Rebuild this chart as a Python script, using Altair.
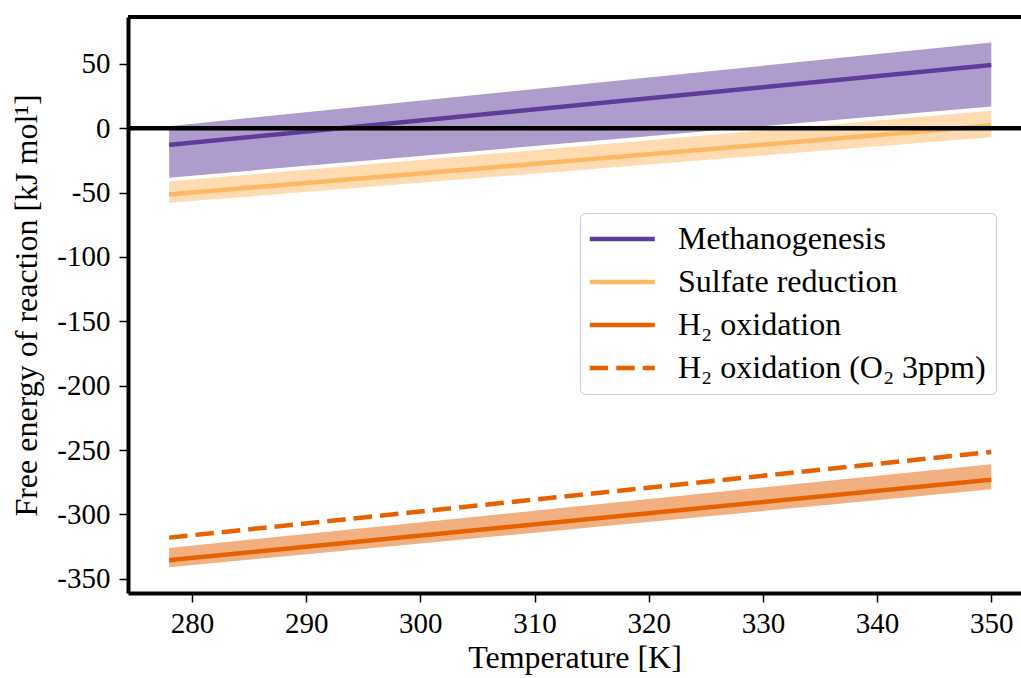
import altair as alt
import pandas as pd

# ---- data ----
temps = [278, 350]
series_names = ["Methanogenesis", "Sulfate reduction", "H₂ oxidation", "H₂ oxidation (O₂ 3ppm)"]
meth = [-13.0, 49.0]
meth_lo = [-38.5, 16.8]
meth_hi = [1.5, 66.5]
sulf = [-51.5, 2.0]
sulf_lo = [-58.0, -7.0]
sulf_hi = [-41.5, 13.5]
h2 = [-335.5, -273.0]
h2_lo = [-341.0, -280.5]
h2_hi = [-326.0, -261.0]
h2_o2 = [-318.0, -251.5]
colors = ["#5e3c99", "#fdb863", "#e66101", "#e66101"]
x_ticks = [280, 290, 300, 310, 320, 330, 340, 350]
y_ticks = [-350, -300, -250, -200, -150, -100, -50, 0, 50]

line_rows = []
for name, vals in zip(series_names, [meth, sulf, h2, h2_o2]):
    for t, v in zip(temps, vals):
        line_rows.append({"T": t, "G": v, "series": name})
lines_df = pd.DataFrame(line_rows)

band_rows = []
for name, lo, hi in zip(series_names[:3], [meth_lo, sulf_lo, h2_lo], [meth_hi, sulf_hi, h2_hi]):
    for t, a, b in zip(temps, lo, hi):
        band_rows.append({"T": t, "lo": a, "hi": b, "series": name})
bands_df = pd.DataFrame(band_rows)

W, H = 893, 576
FONT = "Times New Roman, Liberation Serif, DejaVu Serif, serif"

xscale = alt.Scale(domain=[274.4, 352.6], nice=False, zero=False)
yscale = alt.Scale(domain=[-361, 86.3], nice=False, zero=False)

xaxis = alt.Axis(values=x_ticks, format="d", title="Temperature [K]",
                 titleX=W / 2, titleY=74,
                 titleBaseline="alphabetic", labelPadding=7)
yaxis = alt.Axis(values=y_ticks, labelExpr="'' + datum.value",
                 title="Free energy of reaction [kJ mol¹]",
                 titleX=-102, titleY=H / 2, titleAngle=270, titleAlign="center",
                 titleBaseline="middle", labelPadding=9)

bands = alt.Chart(bands_df).mark_area(opacity=0.5).encode(
    x=alt.X("T:Q", scale=xscale, axis=xaxis),
    y=alt.Y("lo:Q", scale=yscale, axis=yaxis),
    y2="hi:Q",
    fill=alt.Fill("series:N", scale=alt.Scale(domain=series_names[:3], range=colors[:3]), legend=None),
)

lines = alt.Chart(lines_df).mark_line(strokeWidth=4.5, strokeCap="butt").encode(
    x=alt.X("T:Q", scale=xscale),
    y=alt.Y("G:Q", scale=yscale),
    stroke=alt.Stroke("series:N", scale=alt.Scale(domain=series_names, range=colors),
                      legend=alt.Legend(title=None)),
    strokeDash=alt.StrokeDash("series:N",
                              scale=alt.Scale(domain=series_names,
                                              range=[[1, 0], [1, 0], [1, 0], [18.5, 8]]),
                              legend=alt.Legend(title=None)),
)

zero = alt.Chart(pd.DataFrame({"z": [0]})).mark_rule(color="black", strokeWidth=4.5).encode(
    y=alt.Y("z:Q", scale=yscale)
)

top_spine = alt.Chart(pd.DataFrame({"z": [0]})).mark_rule(color="black", strokeWidth=4).encode(
    y=alt.value(0)
)

chart = alt.layer(bands, lines, zero, top_spine).properties(
    width=W, height=H,
    autosize=alt.AutoSizeParams(type="none"),
    padding={"left": 128, "top": 17, "right": 0, "bottom": 85},
).configure_view(stroke=None).configure_axis(
    domainColor="black", domainWidth=4, tickColor="black", tickWidth=1.5, tickSize=9,
    grid=False, labelFont=FONT, titleFont=FONT, labelFontSize=29, titleFontSize=32,
    labelColor="black", titleColor="black", titleFontWeight="normal",
).configure_legend(
    orient="none", legendX=452, legendY=196, padding=10,
    labelFont=FONT, labelFontSize=32, labelColor="black", labelLimit=600,
    symbolType="M-1.5,0H4.5", symbolSize=470, symbolStrokeWidth=4.5,
    labelOffset=56, rowPadding=11,
    fillColor="rgba(255,255,255,0.8)", strokeColor="#cccccc", cornerRadius=5,
)

chart.save("out.html", embed_options={"renderer": "svg", "actions": False})
